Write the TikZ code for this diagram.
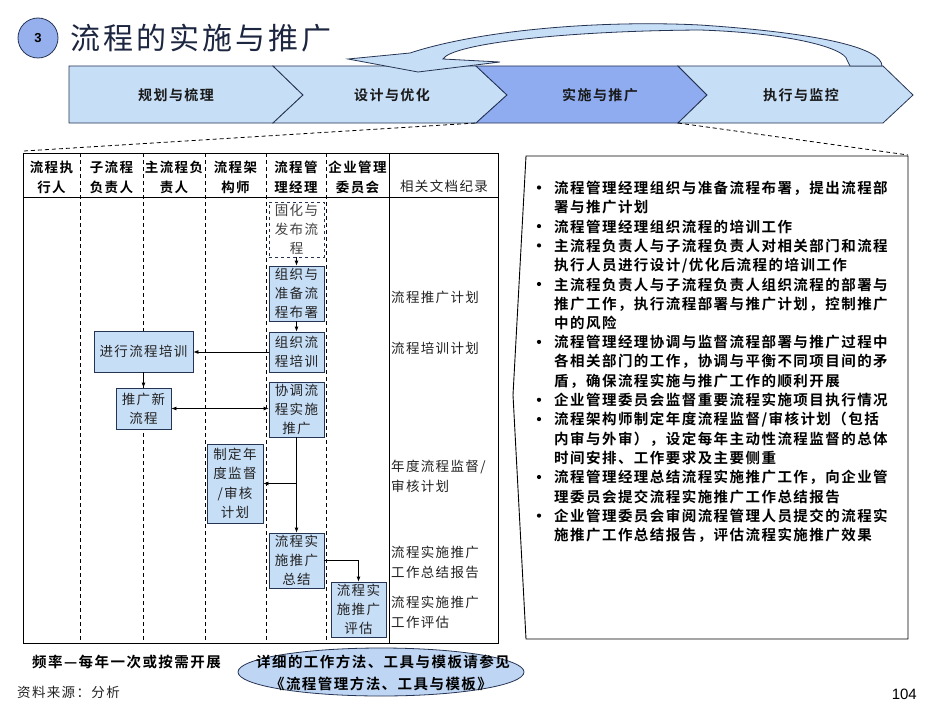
\documentclass[tikz,border=0pt]{standalone}
\usepackage{fontspec}
\newfontfamily\cjk{Noto Sans CJK SC}[BoldFont={Noto Sans CJK SC Bold}]
\newfontfamily\cjksp{Noto Sans CJK SC}[BoldFont={Noto Sans CJK SC Bold},LetterSpace=10]
\newfontfamily\arialf{Liberation Sans}
\usetikzlibrary{arrows.meta,shapes.geometric}
\definecolor{lblue}{RGB}{199,222,247}
\definecolor{dblue}{RGB}{143,172,240}
\definecolor{cblue}{RGB}{150,176,238}
\definecolor{navy}{RGB}{38,52,84}
\definecolor{txt}{RGB}{35,35,35}
\definecolor{titlec}{RGB}{28,38,64}
\definecolor{ellc}{RGB}{190,214,244}
\newcommand\bulline[2]{\node[bul] (l#1) at (554,{188+#1*19.3}) {#2};}
\newcommand\bulmark[1]{\node[bulm] (b#1) at (539,{187.5+#1*19.3}) {};}
\begin{document}
\begin{tikzpicture}[x=1pt,y=-1pt,
  proc/.style={draw=navy, fill=lblue, line width=0.8pt, align=center, inner sep=0pt, text=txt, font=\cjksp\fontsize{13.5}{19}\selectfont},
  procd/.style={proc, fill=white, dashed, text=black!75},
  arr/.style={-{Latex[length=5pt,width=4pt]}, line width=0.8pt},
  arrb/.style={{Latex[length=5pt,width=4pt]}-{Latex[length=5pt,width=4pt]}, line width=0.8pt},
  hdr/.style={align=center, inner sep=0pt, font=\cjksp\bfseries\fontsize{13.5}{20}\selectfont},
  doc/.style={anchor=west, align=left, inner sep=0pt, text=txt, font=\cjksp\fontsize{13.5}{20}\selectfont},
  chevlabel/.style={inner sep=0pt, font=\cjksp\bfseries\fontsize{14}{16}\selectfont, text=black!90},
  chev/.style={draw=navy, line width=0.8pt},
  lane/.style={line width=0.8pt, dash pattern=on 4pt off 3pt},
  bul/.style={anchor=west, inner sep=0pt, font=\cjksp\bfseries\fontsize{14.5}{16}\selectfont},
  bulm/.style={circle, fill=black, inner sep=0pt, minimum size=4.2pt},
]
\useasboundingbox (0,0) rectangle (941,706);
\fill[white] (0,0) rectangle (941,706);

% title
\node[circle, draw=navy, fill=cblue, line width=0.8pt, minimum size=40pt, inner sep=0pt, font=\arialf\bfseries\fontsize{13}{14}\selectfont] (num) at (38,38) {3};
\node[anchor=west, inner sep=0pt, text=titlec, font=\cjksp\fontsize{30}{32}\selectfont] (title) at (70,38) {流程的实施与推广};

% chevrons
\draw[chev, fill=lblue] (69,66) -- (273,66) -- (303,95) -- (273,123) -- (69,123) -- cycle;
\draw[chev, fill=lblue] (273,66) -- (476,66) -- (507,95) -- (476,123) -- (273,123) -- (303,95) -- cycle;
\draw[chev, fill=dblue] (476,66) -- (678,66) -- (707,95) -- (678,123) -- (476,123) -- (507,95) -- cycle;
\draw[chev, fill=lblue] (678,66) -- (883,66) -- (913,95) -- (883,123) -- (678,123) -- (707,95) -- cycle;
\node[chevlabel] (c1) at (176,95) {规划与梳理};
\node[chevlabel] (c2) at (392,95) {设计与优化};
\node[chevlabel] (c3) at (600,95) {实施与推广};
\node[chevlabel] (c4) at (801,95) {执行与监控};

% curved return arrow
\draw[chev, fill=lblue] (882,66) .. controls (882,48) and (820,33) .. (700,25)
  .. controls (600,20) and (480,30) .. (410,53) -- (348,59) -- (418,72) -- (500,62) -- (443,59)
  .. controls (452,44) and (560,31) .. (700,30)
  .. controls (790,33) and (845,48) .. (847,60) -- (850,66) -- cycle;

% dashed callout lines
\coordinate (cl) at (476,123);
\coordinate (cr) at (678,123);
\coordinate (tl) at (24,151);
\coordinate (br) at (908,155);
\draw[lane] (tl) -- (cl);
\draw[lane] (cr) -- (br);

% table
\draw[line width=0.9pt] (23,153) rectangle (498,643);
\draw[line width=0.9pt] (23,197) -- (498,197);
\draw[line width=0.9pt] (389,153) -- (389,643);
\foreach \xx in {80,143,205,266,326} \draw[lane] (\xx,153) -- (\xx,643);

\node[hdr] (h1) at (51.5,177) {流程执\\行人};
\node[hdr] (h2) at (111.5,177) {子流程\\负责人};
\node[hdr] (h3) at (174,177) {主流程负\\责人};
\node[hdr] (h4) at (235.5,177) {流程架\\构师};
\node[hdr] (h5) at (296,177) {流程管\\理经理};
\node[hdr] (h6) at (357.5,177) {企业管理\\委员会};
\node[inner sep=0pt, text=txt, font=\cjksp\fontsize{13.5}{16}\selectfont] (h7) at (444,186) {相关文档纪录};

% process boxes
\node[procd, minimum width=55pt, minimum height=55pt] (n1) at (296.5,229.5) {固化与\\发布流\\程};
\node[proc, minimum width=55pt, minimum height=55pt] (n2) at (296.5,293.5) {组织与\\准备流\\程布署};
\node[proc, minimum width=55pt, minimum height=40pt] (n3) at (296.5,352) {组织流\\程培训};
\node[proc, minimum width=99pt, minimum height=41pt] (n4) at (143.5,351.5) {进行流程培训};
\node[proc, minimum width=55pt, minimum height=41pt] (n5) at (143.5,408.5) {推广新\\流程};
\node[proc, minimum width=55pt, minimum height=55pt] (n6) at (296.5,409.5) {协调流\\程实施\\推广};
\node[proc, minimum width=56pt, minimum height=79pt, font=\cjksp\fontsize{13.5}{19.5}\selectfont] (n7) at (235,483.5) {制定年\\度监督\\/审核\\计划};
\node[proc, minimum width=55pt, minimum height=55pt] (n8) at (296.5,560.5) {流程实\\施推广\\总结};
\node[proc, minimum width=55pt, minimum height=55pt] (n9) at (358.5,609.5) {流程实\\施推广\\评估};

% connectors
\draw[arr] (n1) -- (n2);
\draw[arr] (n2) -- (n3);
\draw[arr] (n3.west) -- (n3.west -| n4.east);
\draw[arr] (n4) -- (n5);
\draw[arrb] (n5.east) -- (n5.east -| n6.west);
\draw[arr] (n6) -- (n8);
\draw[arr] (n6.south |- n7.east) -- (n7.east);
\draw[arr] (n8.east) -| (n9.north);

% documents
\node[doc] (d1) at (391,297) {流程推广计划};
\node[doc] (d2) at (391,348) {流程培训计划};
\node[doc] (d3) at (391,476) {年度流程监督/\\审核计划};
\node[doc] (d4) at (391,562) {流程实施推广\\工作总结报告};
\node[doc] (d5) at (391,612) {流程实施推广\\工作评估};

% right box
\draw[line width=0.9pt] (526,156) -- (908,156) -- (908,639) -- (526,639) -- (513,395) -- cycle;
\bulmark{0}\bulline{0}{流程管理经理组织与准备流程布署，提出流程部}
\bulline{1}{署与推广计划}
\bulmark{2}\bulline{2}{流程管理经理组织流程的培训工作}
\bulmark{3}\bulline{3}{主流程负责人与子流程负责人对相关部门和流程}
\bulline{4}{执行人员进行设计/优化后流程的培训工作}
\bulmark{5}\bulline{5}{主流程负责人与子流程负责人组织流程的部署与}
\bulline{6}{推广工作，执行流程部署与推广计划，控制推广}
\bulline{7}{中的风险}
\bulmark{8}\bulline{8}{流程管理经理协调与监督流程部署与推广过程中}
\bulline{9}{各相关部门的工作，协调与平衡不同项目间的矛}
\bulline{10}{盾，确保流程实施与推广工作的顺利开展}
\bulmark{11}\bulline{11}{企业管理委员会监督重要流程实施项目执行情况}
\bulmark{12}\bulline{12}{流程架构师制定年度流程监督/审核计划（包括}
\bulline{13}{内审与外审），设定每年主动性流程监督的总体}
\bulline{14}{时间安排、工作要求及主要侧重}
\bulmark{15}\bulline{15}{流程管理经理总结流程实施推广工作，向企业管}
\bulline{16}{理委员会提交流程实施推广工作总结报告}
\bulmark{17}\bulline{17}{企业管理委员会审阅流程管理人员提交的流程实}
\bulline{18}{施推广工作总结报告，评估流程实施推广效果}

% bottom
\node[anchor=west, inner sep=0pt, font=\cjksp\bfseries\fontsize{14.5}{16}\selectfont] (freq) at (32,662) {频率—每年一次或按需开展};
\node[ellipse, draw=navy, fill=ellc, line width=0.8pt, minimum width=286pt, minimum height=48pt, inner sep=0pt] (ell) at (381,672) {};
\node[inner sep=0pt, font=\cjksp\bfseries\fontsize{14.5}{16}\selectfont] (e1) at (383,662) {详细的工作方法、工具与模板请参见};
\node[inner sep=0pt, font=\cjksp\bfseries\fontsize{14.5}{16}\selectfont] (e2) at (381,684) {《流程管理方法、工具与模板》};
\node[anchor=west, inner sep=0pt, text=txt, font=\cjksp\fontsize{13.5}{16}\selectfont] (src) at (17,692) {资料来源：分析};
\node[anchor=east, inner sep=0pt, font=\arialf\fontsize{15}{16}\selectfont] (pg) at (917,694) {104};
\end{tikzpicture}
\end{document}
